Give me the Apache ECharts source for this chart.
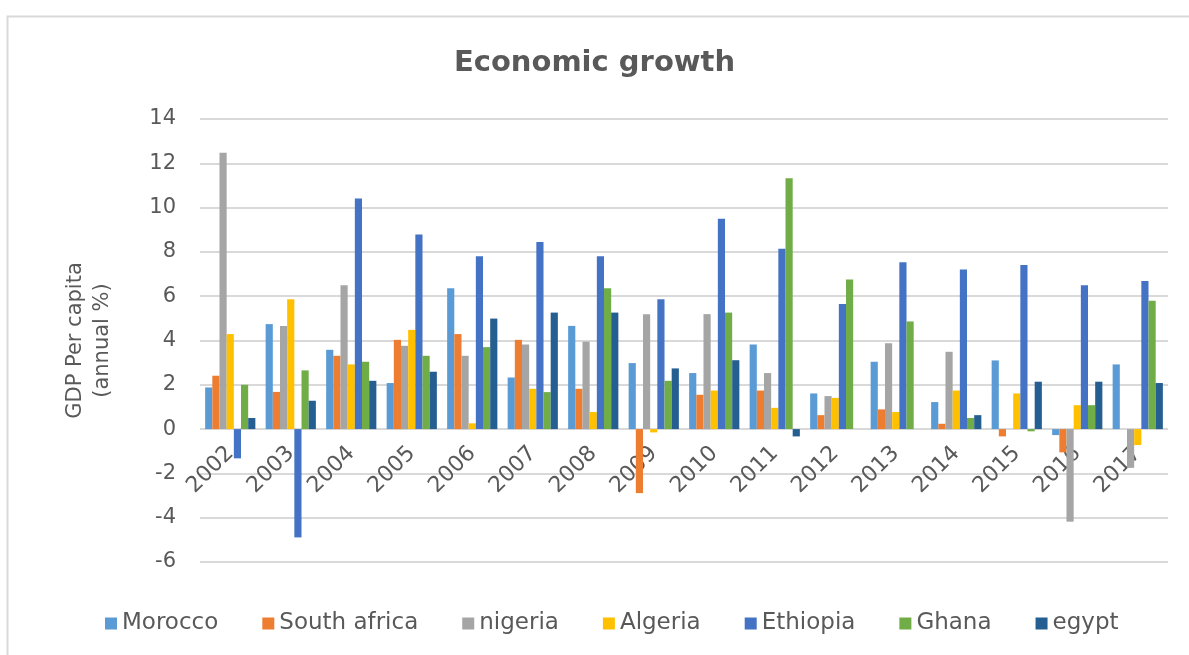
<!DOCTYPE html>
<html>
<head>
<meta charset="utf-8">
<script src="https://cdn.jsdelivr.net/npm/echarts@6/dist/echarts.min.js"></script>
<style>html,body{margin:0;padding:0;background:#fff;}#c{width:1189px;height:655px;}</style>
</head>
<body>
<div id="c"></div>
<script>
const years = ['2002','2003','2004','2005','2006','2007','2008','2009','2010','2011','2012','2013','2014','2015','2016','2017'];
const morocco   = [1.88, 4.74, 3.58, 2.08, 6.36, 2.33, 4.66, 2.98, 2.53, 3.82, 1.61, 3.04, 1.22, 3.10, -0.27, 2.92];
const southAfrica = [2.41, 1.68, 3.31, 4.03, 4.29, 4.03, 1.82, -2.89, 1.55, 1.74, 0.63, 0.89, 0.24, -0.33, -1.05, null];
const nigeria   = [12.48, 4.66, 6.50, 3.76, 3.31, 3.82, 3.95, 5.19, 5.19, 2.53, 1.49, 3.88, 3.49, null, -4.18, -1.75];
const algeria   = [4.29, 5.86, 2.92, 4.48, 0.26, 1.82, 0.77, -0.15, 1.74, 0.96, 1.41, 0.77, 1.74, 1.61, 1.08, -0.72];
const ethiopia  = [-1.32, -4.89, 10.41, 8.78, 7.80, 8.45, 7.80, 5.86, 9.50, 8.14, 5.65, 7.53, 7.20, 7.41, 6.50, 6.69];
const ghana     = [2.00, 2.65, 3.04, 3.31, 3.70, 1.67, 6.36, 2.18, 5.26, 11.32, 6.75, 4.86, 0.50, -0.10, 1.08, 5.79];
const egypt     = [0.50, 1.28, 2.18, 2.59, 4.99, 5.26, 5.26, 2.74, 3.11, -0.33, null, null, 0.63, 2.14, 2.14, 2.08];
const yTicks = { min: -6, max: 14, interval: 2 };

const seriesDefs = [
  ['Morocco', morocco, '#5b9bd5'],
  ['South africa', southAfrica, '#ed7d31'],
  ['nigeria', nigeria, '#a5a5a5'],
  ['Algeria', algeria, '#ffc000'],
  ['Ethiopia', ethiopia, '#4472c4'],
  ['Ghana', ghana, '#70ad47'],
  ['egypt', egypt, '#255e91']
];

const FONT = 'DejaVu Sans';
const chart = echarts.init(document.getElementById('c'), null, {renderer: 'canvas'});
chart.setOption({
  animation: false,
  backgroundColor: '#fff',
  textStyle: { fontFamily: FONT },
  graphic: [{
    type: 'rect', left: 5, top: 14, shape: { width: 1200, height: 660 },
    style: { fill: 'none', stroke: '#d9d9d9', lineWidth: 2 }, silent: true, z: -10
  }],
  title: {
    text: 'Economic growth', left: 'center', top: 44,
    textStyle: { fontFamily: FONT, fontSize: 29, fontWeight: 'bold', color: '#595959' }
  },
  legend: {
    bottom: 15, left: 100, itemWidth: 12, itemHeight: 12, itemGap: 44,
    icon: 'rect',
    textStyle: { fontFamily: FONT, fontSize: 23, color: '#595959' },
    data: seriesDefs.map(s => s[0])
  },
  grid: { left: 200, right: 21, top: 119, bottom: 93, containLabel: false },
  xAxis: {
    type: 'category', data: years, z: 0,
    axisLine: { onZero: false, show: false },
    axisTick: { show: false },
    axisLabel: { rotate: 45, fontFamily: FONT, fontSize: 22, color: '#595959', margin: -112 }
  },
  yAxis: {
    type: 'value', min: yTicks.min, max: yTicks.max, interval: yTicks.interval,
    name: 'GDP Per capita\n(annual %)', nameLocation: 'middle', nameGap: 84, nameRotate: 90,
    nameTextStyle: { fontFamily: FONT, fontSize: 21, color: '#595959', lineHeight: 27 },
    axisLine: { show: false }, axisTick: { show: false },
    axisLabel: { fontFamily: FONT, fontSize: 21, color: '#595959', margin: 24 },
    splitLine: { lineStyle: { color: '#d9d9d9', width: 2 } }
  },
  series: seriesDefs.map(([name, data, color]) => ({
    name, type: 'bar', data, z: 5,
    barGap: '0%', barCategoryGap: '17%',
    itemStyle: { color }
  }))
});
</script>
</body>
</html>
